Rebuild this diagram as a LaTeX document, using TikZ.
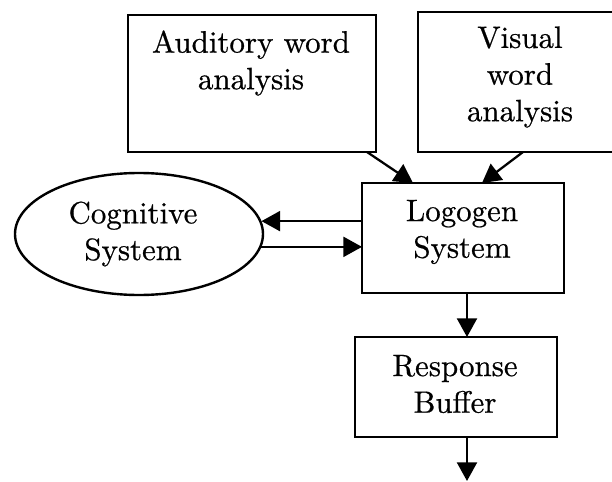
\documentclass[tikz,border=0pt]{standalone}
\usepackage{fontspec}
\newfontfamily\boxfont{lmroman10-regular.otf}[FakeBold=0.6]
\usetikzlibrary{arrows.meta,shapes.geometric}

\tikzset{every picture/.style={line width=0.75pt}}
\tikzset{
  blockbox/.style={draw,line width=1.8pt,rectangle,inner sep=0pt,outer sep=0pt},
  blocktext/.style={align=center,inner sep=0pt,font=\boxfont\fontsize{23.2}{27.5}\selectfont},
  flow/.style={line width=1.7pt,-{Triangle[length=14pt,width=15pt]}}
}

\begin{document}
\begin{tikzpicture}[x=0.75pt,y=0.75pt,yscale=-1,xscale=1]
\useasboundingbox (0,0) rectangle (612,482);

%Shape: Rectangle [auditory]
\node [blockbox,minimum width=186pt,minimum height=102.75pt] (aud) at (252,83.5) {};
%Shape: Rectangle [visual]
\node [blockbox,minimum width=154.5pt,minimum height=105pt] (vis) at (521,82) {};
%Shape: Rectangle [logogen]
\node [blockbox,minimum width=151.5pt,minimum height=82.5pt] (logo) at (463,238) {};
%Shape: Ellipse [cognitive]
\node [draw,ellipse,line width=1.8pt,inner sep=0pt,minimum width=186pt,minimum height=91.5pt] (cog) at (139,234) {};
%Shape: Rectangle [response]
\node [blockbox,minimum width=151.5pt,minimum height=75pt] (resp) at (456,387) {};

% Text Node
\node [blocktext] (audtext) at (251,63) {Auditory word\\analysis};
% Text Node
\node [blocktext] (vistext) at (520,77) {Visual\\word\\analysis};
% Text Node
\node [blocktext] (logotext) at (462,232) {Logogen\\System};
% Text Node
\node [blocktext] (cogtext) at (133,234) {Cognitive\\System};
% Text Node
\node [blocktext] (resptext) at (455,384) {Response\\Buffer};

%Arrows into the logogen system
\draw [flow] ([xshift=-6.75pt]aud.south east) -- ([xshift=-37.5pt]logo.north);
\draw [flow] ([xshift=1.5pt]vis.south) -- ([xshift=14.25pt]logo.north);

%Arrows between logogen and cognitive system
\draw [flow] (logo.west |- cog.6.6) -- (cog.6.6);
\draw [flow] (cog.-6.6) -- (cog.-6.6 -| logo.west);

%Arrows down to the buffer and out
\draw [flow] ([xshift=3pt]logo.south) -- ([xshift=3pt]logo.south |- resp.north);
\coordinate (out) at (467,481);
\draw [flow] (resp.south -| out) -- (out);

\end{tikzpicture}
\end{document}
